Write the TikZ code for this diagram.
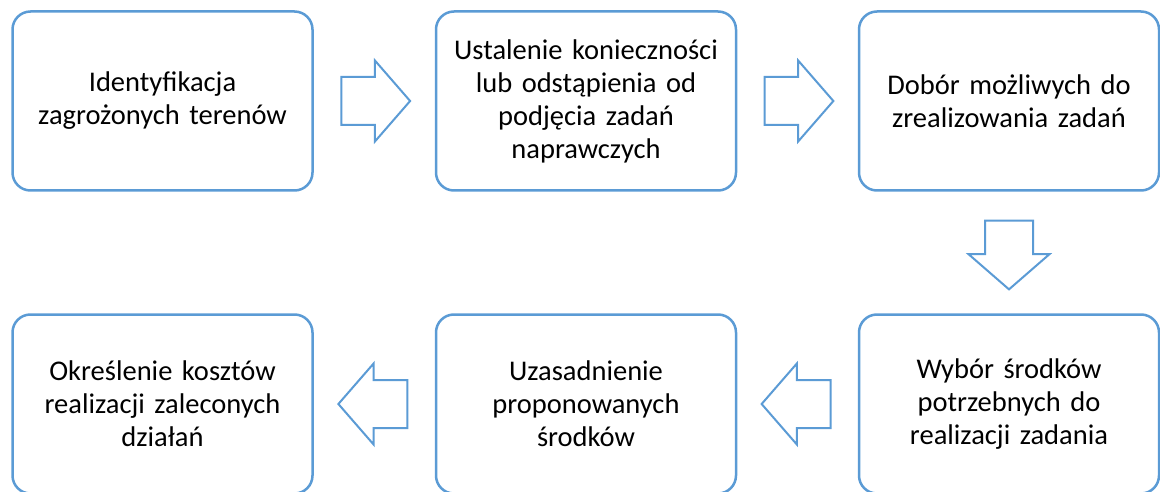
\documentclass[tikz,border=0pt]{standalone}
\usepackage{fontspec}
\setmainfont{Carlito}
\usetikzlibrary{calc,shapes.arrows}
\definecolor{krokblue}{HTML}{5B9BD5}
\tikzset{
  krok/.style={draw=krokblue, line width=2.5pt, rounded corners=18pt,
    minimum width=300pt, minimum height=179pt, text width=285pt,
    align=center, font=\fontsize{28.5}{33}\selectfont},
  strzalka/.style={single arrow, draw=krokblue, line width=2pt, fill=white,
    minimum height=66pt, inner sep=23pt, anchor=tail,
    single arrow head extend=16.5pt, single arrow tip angle=98}
}

\begin{document}
\begin{tikzpicture}[x=1pt,y=-1pt]
		%%%%% START %%%%%
		\useasboundingbox (0,0) rectangle (1160,492);
		
		\node[krok] (ident) at (162.5,101) {Identyfikacja\\zagrożonych terenów};
		\node[krok] (ustal) at (586,101) {Ustalenie konieczności\\lub odstąpienia od\\podjęcia zadań\\naprawczych};
		\node[krok] (dobor) at (1009,101) {Dobór możliwych do\\zrealizowania zadań};
		
		\node[krok] (wybor) at (1009,404) {Wybór środków\\potrzebnych do\\realizacji zadania};
		\node[krok] (uzasad) at (586,404) {Uzasadnienie\\proponowanych\\środków};
		\node[krok] (okresl) at (162.5,404) {Określenie kosztów\\realizacji zaleconych\\działań};
		
		\node[strzalka, xshift=-34pt] (s1) at ($(ident.east)!0.5!(ustal.west)$) {};
		\node[strzalka, xshift=-34pt] (s2) at ($(ustal.east)!0.5!(dobor.west)$) {};
		\node[strzalka, shape border rotate=270, yshift=33pt] (s3) at ($(dobor.south)!0.5!(wybor.north)$) {};
		\node[strzalka, shape border rotate=180, xshift=34pt] (s4) at ($(wybor.west)!0.5!(uzasad.east)$) {};
		\node[strzalka, shape border rotate=180, xshift=34pt] (s5) at ($(uzasad.west)!0.5!(okresl.east)$) {};
		
		%%%%% END %%%%%
\end{tikzpicture}
\end{document}
